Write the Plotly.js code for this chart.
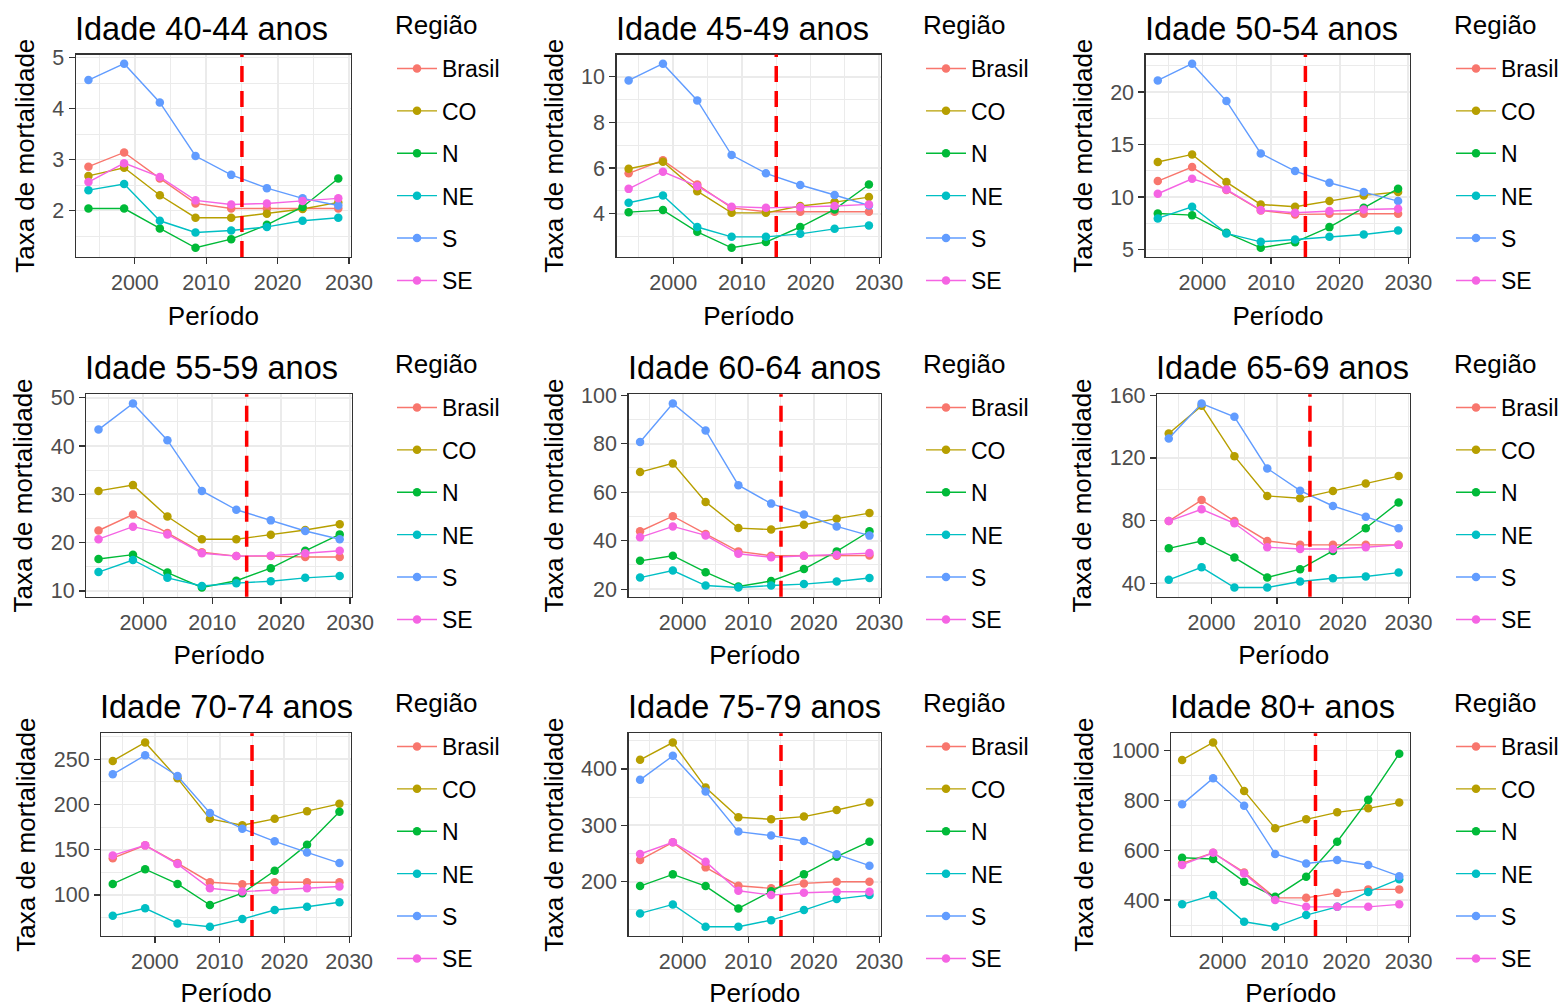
<!DOCTYPE html>
<html>
<head>
<meta charset="utf-8">
<script src="https://cdn.plot.ly/plotly-3.0.1.min.js"></script>
<style>
  html, body { margin: 0; padding: 0; background: #ffffff; }
  #chart { width: 1564px; height: 1008px; }
</style>
</head>
<body>
<div id="chart"></div>
<script>
// Mortality rates by age group and region, five-year periods (midpoints).
const periods = [1993.5, 1998.5, 2003.5, 2008.5, 2013.5, 2018.5, 2023.5, 2028.5];
const regions = ['Brasil', 'CO', 'N', 'NE', 'S', 'SE'];
const ageGroups = ['40-44', '45-49', '50-54', '55-59', '60-64', '65-69', '70-74', '75-79', '80+'];
const cutoffYear = 2015;

// One row per age group (same order as ageGroups), one value per period.
const taxaBrasil = [
  [2.86, 3.14, 2.63, 2.14, 2.04, 2.04, 2.04, 2.04],
  [5.77, 6.34, 5.28, 4.26, 4.09, 4.09, 4.09, 4.09],
  [11.52, 12.85, 10.66, 8.72, 8.34, 8.40, 8.40, 8.40],
  [22.5, 25.8, 22.0, 18.0, 17.2, 17.2, 17.0, 17.0],
  [43.9, 50.1, 42.8, 35.6, 33.8, 33.8, 33.8, 33.9],
  [79.7, 93.1, 79.7, 67.0, 64.5, 64.5, 64.5, 64.5],
  [140.7, 154.8, 135.2, 114.1, 111.9, 114.1, 114.1, 114.1],
  [238.5, 269.8, 225.4, 192.9, 188.2, 197.0, 200.0, 200.0],
  [547, 590, 511, 409, 409, 429, 443, 443]
];
const taxaCO = [
  [2.68, 2.84, 2.30, 1.86, 1.86, 1.94, 2.03, 2.16],
  [5.97, 6.28, 4.99, 4.04, 4.04, 4.34, 4.51, 4.73],
  [13.33, 14.06, 11.42, 9.29, 9.07, 9.61, 10.15, 10.47],
  [30.7, 31.9, 25.4, 20.7, 20.7, 21.6, 22.6, 23.8],
  [68.3, 71.9, 56.0, 45.2, 44.6, 46.6, 49.1, 51.4],
  [135.6, 153.2, 121.1, 95.7, 94.2, 98.9, 103.7, 108.4],
  [248.1, 268.5, 228.9, 184.1, 177.0, 184.1, 192.6, 200.7],
  [416.0, 446.7, 366.9, 314.2, 310.7, 315.4, 327.2, 340.2],
  [962, 1032, 838, 688, 724, 752, 768, 791]
];
const taxaN = [
  [2.04, 2.04, 1.65, 1.27, 1.44, 1.72, 2.07, 2.63],
  [4.07, 4.16, 3.21, 2.51, 2.76, 3.42, 4.19, 5.28],
  [8.43, 8.27, 6.59, 5.16, 5.70, 7.13, 8.97, 10.79],
  [16.6, 17.5, 13.8, 10.7, 12.1, 14.7, 18.3, 21.7],
  [31.7, 33.8, 27.0, 21.1, 23.4, 28.3, 35.6, 43.9],
  [62.3, 67.0, 56.4, 43.7, 49.0, 60.6, 75.1, 91.6],
  [112.2, 128.5, 112.2, 88.9, 101.9, 126.7, 155.6, 191.9],
  [192.3, 213.0, 192.3, 152.7, 183.0, 213.0, 244.4, 271.0],
  [570, 565, 474, 413, 494, 634, 802, 987]
];
const taxaNE = [
  [2.40, 2.52, 1.80, 1.57, 1.61, 1.68, 1.80, 1.86],
  [4.48, 4.80, 3.42, 2.99, 2.99, 3.12, 3.34, 3.49],
  [7.96, 9.07, 6.53, 5.73, 5.95, 6.21, 6.43, 6.81],
  [13.9, 16.4, 12.7, 11.0, 11.6, 12.0, 12.7, 13.1],
  [24.8, 27.7, 21.5, 20.7, 21.5, 22.1, 23.2, 24.6],
  [42.2, 50.2, 37.3, 37.3, 41.1, 43.2, 44.3, 46.8],
  [77.0, 85.2, 68.5, 64.8, 73.3, 83.3, 87.0, 91.9],
  [143.8, 159.8, 120.1, 120.1, 131.9, 149.7, 169.2, 176.3],
  [383, 420, 313, 293, 340, 373, 433, 484]
];
const taxaS = [
  [4.56, 4.88, 4.12, 3.07, 2.70, 2.44, 2.24, 2.10],
  [9.84, 10.57, 8.96, 6.57, 5.77, 5.26, 4.82, 4.36],
  [21.11, 22.70, 19.14, 14.15, 12.47, 11.36, 10.47, 9.61],
  [43.4, 48.8, 41.2, 30.7, 26.8, 24.6, 22.4, 20.7],
  [80.7, 96.6, 85.5, 62.9, 55.3, 50.8, 45.9, 42.1],
  [132.4, 154.7, 146.2, 113.3, 99.1, 89.3, 82.5, 75.1],
  [233.3, 254.4, 231.5, 190.7, 173.3, 159.3, 147.0, 135.2],
  [380.5, 423.1, 359.8, 288.8, 281.7, 272.2, 248.5, 228.4],
  [784, 889, 778, 585, 547, 561, 541, 496]
];
const taxaSE = [
  [2.56, 2.93, 2.66, 2.20, 2.12, 2.14, 2.19, 2.24],
  [5.09, 5.84, 5.21, 4.31, 4.26, 4.29, 4.34, 4.41],
  [10.31, 11.74, 10.72, 8.75, 8.50, 8.66, 8.81, 8.88],
  [20.7, 23.3, 21.7, 17.8, 17.2, 17.3, 17.8, 18.3],
  [41.4, 45.9, 42.2, 34.6, 33.2, 33.8, 34.2, 34.9],
  [79.7, 87.2, 78.3, 63.0, 61.9, 61.9, 63.0, 64.5],
  [143.7, 154.8, 134.1, 107.4, 103.7, 105.6, 107.4, 109.3],
  [249.1, 269.8, 235.5, 184.0, 176.3, 180.5, 182.2, 182.2],
  [541, 590, 507, 400, 373, 373, 373, 383]
];

const xTickVals = [2000, 2010, 2020, 2030];
const xMinorVals = [1995, 2005, 2015, 2025];

// ---- presentation settings ----
const seriesByRegion = [taxaBrasil, taxaCO, taxaN, taxaNE, taxaS, taxaSE];
const regionColors = ['#F8766D', '#B79F00', '#00BA38', '#00BFC4', '#619CFF', '#F564E3'];
const yTickStep = [1, 2, 5, 10, 20, 40, 50, 100, 200];

const W = 1564, H = 1008;
// panel boxes in pixels: [left, right, top, bottom]
const panelBoxes = [
  [76, 351, 54.5, 257], [617, 881.5, 54.5, 257], [1146.5, 1411, 54.5, 257],
  [86.5, 352, 394.3, 596.7], [629, 881.5, 394.3, 596.7], [1158, 1411, 394.3, 596.7],
  [101.5, 351, 733.3, 936], [629, 881.5, 733.3, 936], [1172, 1411, 733.3, 936]
];
const legendLeft = [392, 921, 1452];
const legendTitleY = [25, 364, 703];   // centre of the "Região" heading
const legendTop = [47, 386, 725];      // top of the key box

const FONT = 'Liberation Sans, Arial, sans-serif';
const TICK_GREY = '#4D4D4D';
const BORDER = '#333333';
const GRID = '#EBEBEB';

function expandRange(vals, mult) {
  const lo = Math.min(...vals), hi = Math.max(...vals);
  const pad = (hi - lo) * mult;
  return [lo - pad, hi + pad];
}

const xRange = expandRange(periods, 0.05);

const data = [];
const layout = {
  width: W,
  height: H,
  margin: { l: 0, r: 0, t: 0, b: 0 },
  paper_bgcolor: '#ffffff',
  plot_bgcolor: '#ffffff',
  font: { family: FONT, color: '#000000' },
  showlegend: true,
  annotations: [],
  shapes: []
};

ageGroups.forEach((age, i) => {
  const k = i === 0 ? '' : String(i + 1);
  const [l, r, t, b] = panelBoxes[i];
  const row = Math.floor(i / 3), col = i % 3;
  const legendId = 'legend' + k;

  const panelValues = seriesByRegion.map(s => s[i]);
  const yRange = expandRange([].concat(...panelValues), 0.05);
  const step = yTickStep[i];

  layout['xaxis' + k] = {
    domain: [l / W, r / W],
    anchor: 'y' + k,
    range: xRange,
    tickmode: 'array',
    tickvals: xTickVals,
    ticktext: xTickVals.map(String),
    ticks: 'outside', ticklen: 6, tickwidth: 1.3, tickcolor: BORDER,
    showline: true, mirror: true, linecolor: BORDER, linewidth: 1.4,
    showgrid: true, gridcolor: GRID, gridwidth: 1.8,
    minor: { tickmode: 'array', tickvals: xMinorVals, showgrid: true, gridcolor: GRID, gridwidth: 1, ticks: '' },
    zeroline: false,
    tickfont: { family: FONT, size: 21.5, color: TICK_GREY },
    title: { text: 'Período', font: { family: FONT, size: 26, color: '#000' }, standoff: 12 }
  };

  layout['yaxis' + k] = {
    domain: [1 - b / H, 1 - t / H],
    anchor: 'x' + k,
    range: yRange,
    tickmode: 'linear', tick0: 0, dtick: step,
    ticks: 'outside', ticklen: 6, tickwidth: 1.3, tickcolor: BORDER,
    showline: true, mirror: true, linecolor: BORDER, linewidth: 1.4,
    showgrid: true, gridcolor: GRID, gridwidth: 1.8,
    minor: { tick0: 0, dtick: step / 2, showgrid: true, gridcolor: GRID, gridwidth: 1, ticks: '' },
    zeroline: false,
    tickfont: { family: FONT, size: 21.5, color: TICK_GREY },
    title: { text: 'Taxa de mortalidade', font: { family: FONT, size: 26, color: '#000' }, standoff: 10 }
  };

  regions.forEach((reg, j) => {
    data.push({
      type: 'scatter',
      mode: 'lines+markers',
      x: periods,
      y: panelValues[j],
      xaxis: 'x' + k,
      yaxis: 'y' + k,
      name: reg,
      legend: legendId,
      legendgroup: 'p' + i + '_' + reg,
      line: { color: regionColors[j], width: 1.4 },
      marker: { color: regionColors[j], size: 8.5 },
      hoverinfo: 'x+y+name'
    });
  });

  layout[legendId] = {
    x: legendLeft[col] / W, xanchor: 'left',
    y: 1 - legendTop[row] / H, yanchor: 'top',
    font: { family: FONT, size: 23, color: '#000' },
    traceorder: 'grouped',
    tracegroupgap: 9.5,
    itemwidth: 40,
    bgcolor: 'rgba(0,0,0,0)',
    borderwidth: 0
  };

  // key heading
  layout.annotations.push({
    xref: 'paper', yref: 'paper',
    x: (legendLeft[col] + 1) / W, y: 1 - legendTitleY[row] / H,
    xanchor: 'left', yanchor: 'middle',
    text: 'Região',
    showarrow: false,
    font: { family: FONT, size: 26, color: '#000' }
  });

  // panel heading
  layout.annotations.push({
    xref: 'x' + k + ' domain', yref: 'y' + k + ' domain',
    x: 0, y: 1, xanchor: 'left', yanchor: 'bottom',
    xshift: -3, yshift: 6,
    text: 'Idade ' + age + ' anos',
    showarrow: false,
    font: { family: FONT, size: 32.5, color: '#000' }
  });

  layout.shapes.push({
    type: 'line',
    xref: 'x' + k, yref: 'y' + k + ' domain',
    x0: cutoffYear, x1: cutoffYear, y0: 0, y1: 1,
    line: { color: '#FF0000', width: 3.5, dash: '16px,9px' },
    layer: 'above'
  });
});

Plotly.newPlot('chart', data, layout, { displayModeBar: false, staticPlot: true });
</script>
</body>
</html>
